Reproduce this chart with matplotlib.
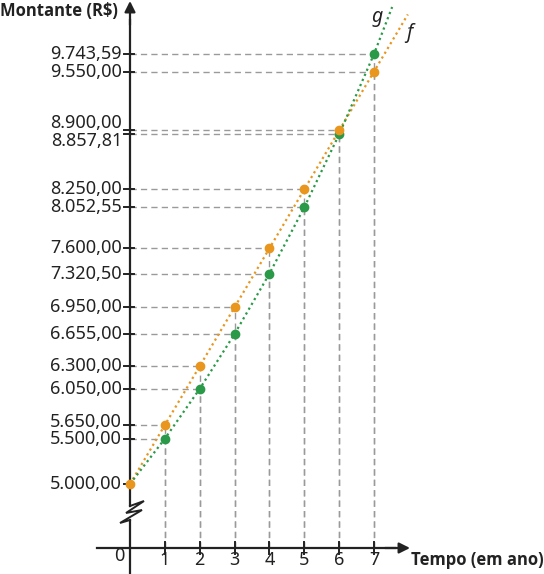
import matplotlib
matplotlib.use("Agg")
import matplotlib.pyplot as plt

plt.rcParams["font.family"] = ["Noto Sans", "DejaVu Sans"]

# dados: juros simples (f) e compostos (g), capital R$ 5.000,00
anos = [0, 1, 2, 3, 4, 5, 6, 7]
montante_f = [5000.00, 5650.00, 6300.00, 6950.00, 7600.00, 8250.00, 8900.00, 9550.00]
montante_g = [5000.00, 5500.00, 6050.00, 6655.00, 7320.50, 8052.55, 8857.81, 9743.59]
# ponto final das linhas pontilhadas (prolongamento das curvas)
fim_f = (7.97, 10180.0)
fim_g = (7.52, 10262.0)

COR_F = "#E8961E"
COR_G = "#2A9A48"
COR_EIXO = "#222222"
COR_GUIA = "#9a9a9a"


def brl(v):
    s = f"{v:,.2f}"
    return s.replace(",", "#").replace(".", ",").replace("#", ".")


# escala em pixels -> dados (só p/ elementos decorativos)
X0_PX, X_ESC = 130.0, 34.86
Y0_PX, Y_ESC = 484.0, 0.090648


def px2x(px):
    return (px - X0_PX) / X_ESC


def py2v(py):
    return 5000 + (Y0_PX - py) / Y_ESC


fig = plt.figure(figsize=(5.44, 5.74), dpi=100)
ax = fig.add_axes([0, 0, 1, 1])
ax.set_xlim(px2x(0), px2x(544))
ax.set_ylim(py2v(574), py2v(0))
ax.axis("off")

y_eixo_x = py2v(548)

# linhas-guia tracejadas
guia = dict(color=COR_GUIA, lw=1.0, ls=(0, (4.5, 3)), zorder=1)
for serie in (montante_f, montante_g):
    for t, v in zip(anos[1:], serie[1:]):
        ax.plot([0, t], [v, v], **guia)
        ax.plot([t, t], [y_eixo_x, v], **guia)

# curvas pontilhadas
ax.plot(anos + [fim_f[0]], montante_f + [fim_f[1]], color=COR_F, lw=1.6,
        ls=(0, (1, 1.5)), zorder=2)
ax.plot(anos + [fim_g[0]], montante_g + [fim_g[1]], color=COR_G, lw=1.6,
        ls=(0, (1, 1.5)), zorder=2)
ax.plot(anos[1:], montante_g[1:], "o", color=COR_G, ms=6, zorder=4)
ax.plot(anos, montante_f, "o", color=COR_F, ms=6, zorder=5)

ax.text(px2x(377), py2v(17), "g", fontsize=14, style="italic", ha="center",
        va="center", color=COR_EIXO)
ax.text(px2x(409), py2v(33), "f", fontsize=14, style="italic", ha="center",
        va="center", color=COR_EIXO)

# eixo y com quebra
brk_top, brk_bot = py2v(506), py2v(520)
ax.plot([0, 0], [y_eixo_x - 1000, brk_bot], color=COR_EIXO, lw=1.6, zorder=3)
ax.plot([0, 0], [brk_top, py2v(20)], color=COR_EIXO, lw=1.6, zorder=3)
ax.annotate("", xy=(0, py2v(1)), xytext=(0, py2v(25)),
            arrowprops=dict(arrowstyle="-|>", color=COR_EIXO, lw=1.6,
                            mutation_scale=16, shrinkA=0, shrinkB=0))
zz_px = [(130, 506), (144, 501), (126, 513), (142, 510), (120, 523), (130, 520)]
ax.plot([px2x(a) for a, b in zz_px], [py2v(b) for a, b in zz_px],
        color=COR_EIXO, lw=1.4, zorder=3, solid_joinstyle="miter")

# eixo x
ax.plot([px2x(97), px2x(395)], [y_eixo_x, y_eixo_x], color=COR_EIXO, lw=1.6, zorder=3)
ax.annotate("", xy=(px2x(410), y_eixo_x), xytext=(px2x(385), y_eixo_x),
            arrowprops=dict(arrowstyle="-|>", color=COR_EIXO, lw=1.6,
                            mutation_scale=16, shrinkA=0, shrinkB=0))
for t in anos[1:]:
    ax.plot([t, t], [py2v(542), py2v(554)], color=COR_EIXO, lw=1.4, zorder=3)
    ax.text(t, py2v(560), str(t), fontsize=13, ha="center", va="center",
            color=COR_EIXO)
ax.text(px2x(119), py2v(556), "0", fontsize=13, ha="center", va="center",
        color=COR_EIXO)

# rótulos do eixo y
desloc = {8900.00: -7, 8857.81: 7, 5650.00: -3}
valores_y = sorted(set(montante_f + montante_g))
for v in valores_y:
    ax.plot([px2x(124), px2x(134)], [v, v], color=COR_EIXO, lw=1.4, zorder=3)
    py = Y0_PX - (v - 5000) * Y_ESC + desloc.get(v, 0)
    ax.text(px2x(122), py2v(py), brl(v), fontsize=13, ha="right",
            va="center", color=COR_EIXO)

negrito = dict(fontsize=12, fontweight="bold", va="center", color=COR_EIXO,
               family=["Open Sans", "DejaVu Sans"])
fig.text(0.0, 1 - 11 / 574, "Montante (R$)", ha="left", **negrito)
fig.text(1.0, 1 - 560 / 574, "Tempo (em ano)", ha="right", **negrito)

fig.savefig("out.png", dpi=100)
